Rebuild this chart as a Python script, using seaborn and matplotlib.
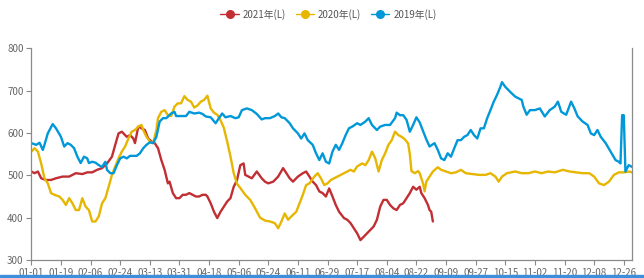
import numpy as np
import pandas as pd
import matplotlib
matplotlib.use("Agg")
import matplotlib.pyplot as plt
from matplotlib.lines import Line2D
from matplotlib.patches import Rectangle
import seaborn as sns

# ---------------- data (day index within the year, 2020 calendar incl. 02-29) ----------------
series_names = ["2021年(L)", "2020年(L)", "2019年(L)"]

day_2021 = [0, 2, 4, 6, 9, 12, 15, 19, 23, 27, 31, 34, 37, 40, 43, 46, 49, 51, 53, 55, 58, 60, 62, 63,
            65, 67, 69, 71, 73, 75, 77, 79, 81, 83, 84, 86, 88, 90, 92, 94, 96, 98, 100, 102, 104, 106,
            107, 109, 111, 113, 115, 117, 119, 121, 123, 125, 127, 129, 130, 132, 134, 137, 140, 142,
            144, 147, 150, 153, 155, 157, 159, 162, 165, 167, 169, 171, 173, 175, 177, 179, 181, 183,
            185, 187, 190, 192, 194, 196, 198, 200, 202, 204, 206, 208, 210, 212, 214, 216, 218, 220,
            222, 224, 226, 228, 230, 232, 234, 236, 237, 239, 241, 242, 243, 244]
val_2021 = [509, 505, 509, 493, 489, 489, 493, 497, 497, 505, 503, 507, 507, 513, 517, 528, 544, 572,
            599, 603, 591, 595, 587, 576, 615, 611, 607, 587, 580, 576, 564, 536, 513, 481, 485, 458,
            446, 446, 454, 454, 458, 454, 450, 450, 454, 454, 450, 434, 414, 399, 414, 426, 438, 446,
            473, 489, 524, 528, 501, 497, 493, 509, 493, 485, 481, 485, 497, 517, 505, 493, 485, 497,
            505, 509, 497, 485, 477, 462, 458, 450, 469, 450, 430, 414, 399, 395, 387, 375, 363, 347,
            355, 363, 371, 379, 395, 426, 442, 442, 430, 422, 418, 430, 434, 446, 458, 473, 466, 473,
            458, 446, 430, 418, 414, 391]

day_2020 = [0, 2, 4, 6, 8, 10, 12, 14, 17, 19, 21, 23, 25, 27, 29, 31, 33, 35, 37, 39, 41, 43, 45, 47,
            49, 51, 53, 55, 57, 59, 61, 63, 65, 67, 68, 70, 72, 74, 76, 77, 79, 81, 83, 85, 87, 89, 91,
            93, 95, 97, 99, 101, 103, 105, 107, 109, 111, 113, 115, 117, 119, 121, 123, 125, 127, 130,
            133, 136, 139, 142, 145, 148, 150, 152, 154, 156, 158, 161, 163, 165, 167, 169, 172, 174,
            176, 178, 180, 182, 184, 186, 188, 190, 192, 194, 196, 198, 201, 203, 205, 207, 209, 211,
            213, 215, 217, 219, 221, 223, 225, 227, 229, 230, 231, 233, 235, 236, 238, 239, 240, 242,
            244, 247, 249, 252, 255, 258, 261, 264, 268, 272, 276, 279, 282, 284, 286, 289, 294, 298,
            302, 306, 310, 314, 318, 323, 327, 331, 335, 339, 342, 345, 348, 351, 354, 357, 360, 363, 365]
val_2020 = [556, 564, 556, 528, 493, 481, 458, 454, 450, 442, 430, 446, 434, 418, 418, 446, 426, 418,
            391, 391, 403, 434, 446, 473, 501, 521, 540, 556, 568, 587, 603, 607, 615, 619, 607, 591,
            580, 576, 607, 635, 650, 654, 642, 640, 662, 670, 670, 687, 678, 674, 660, 665, 674, 678,
            688, 658, 648, 643, 630, 612, 580, 545, 505, 480, 470, 454, 442, 422, 400, 393, 391, 387,
            375, 391, 410, 395, 403, 414, 434, 454, 477, 481, 497, 505, 493, 477, 481, 489, 493, 497,
            501, 505, 509, 513, 509, 521, 528, 524, 536, 556, 540, 509, 536, 552, 572, 583, 603, 595,
            591, 585, 575, 550, 510, 505, 510, 505, 481, 462, 485, 497, 509, 519, 513, 509, 505, 507,
            513, 505, 503, 501, 501, 505, 497, 485, 497, 505, 509, 505, 505, 509, 505, 509, 507, 513,
            509, 507, 505, 505, 497, 481, 477, 485, 501, 507, 507, 509, 507]

day_2019 = [0, 3, 5, 7, 8, 10, 13, 15, 18, 20, 22, 24, 26, 28, 30, 32, 34, 35, 37, 39, 41, 43, 45, 46,
            48, 50, 52, 54, 56, 58, 60, 62, 64, 66, 68, 70, 72, 74, 76, 78, 80, 82, 85, 87, 88, 91, 94,
            96, 99, 102, 104, 106, 109, 112, 114, 116, 118, 121, 124, 126, 128, 131, 134, 137, 140, 142,
            145, 148, 150, 152, 154, 157, 159, 162, 164, 166, 168, 171, 173, 175, 177, 179, 181, 183,
            185, 187, 189, 191, 193, 195, 198, 200, 203, 205, 207, 210, 212, 215, 218, 221, 222, 224,
            226, 228, 230, 232, 234, 236, 238, 240, 242, 245, 247, 249, 251, 253, 255, 257, 259, 261,
            263, 265, 267, 269, 271, 273, 275, 277, 279, 281, 283, 285, 286, 288, 291, 294, 298, 299,
            301, 303, 306, 309, 312, 315, 318, 320, 322, 325, 328, 330, 332, 335, 338, 340, 342, 344,
            346, 349, 352, 355, 357, 358, 359, 360, 361, 363, 365]
val_2019 = [576, 572, 577, 560, 572, 599, 621, 611, 591, 568, 576, 572, 564, 544, 529, 544, 540, 529,
            532, 530, 524, 520, 532, 513, 505, 505, 524, 540, 544, 540, 546, 546, 546, 552, 564, 572,
            578, 576, 591, 627, 635, 635, 646, 650, 640, 640, 640, 650, 646, 648, 645, 639, 637, 623,
            635, 646, 637, 640, 635, 637, 654, 658, 654, 645, 632, 635, 635, 640, 646, 637, 635, 623,
            611, 599, 587, 599, 583, 572, 552, 536, 552, 532, 528, 556, 572, 560, 576, 595, 611, 615,
            623, 619, 627, 635, 619, 607, 615, 619, 619, 635, 648, 642, 642, 631, 603, 619, 637, 625,
            605, 585, 568, 576, 560, 540, 536, 552, 544, 564, 583, 583, 591, 595, 607, 595, 587, 611,
            611, 635, 654, 674, 690, 709, 720, 709, 697, 686, 678, 662, 643, 654, 654, 658, 639, 654,
            662, 674, 650, 643, 674, 658, 639, 627, 619, 599, 595, 607, 591, 576, 556, 536, 532, 528,
            642, 642, 509, 524, 520]

tick_days = [0, 18, 36, 54, 72, 90, 108, 126, 144, 162, 180, 198, 216, 234, 252, 270, 288, 306, 324, 342, 360]
tick_labels = ["01-01", "01-19", "02-06", "02-24", "03-13", "03-31", "04-18", "05-06", "05-24", "06-11",
               "06-29", "07-17", "08-04", "08-22", "09-09", "09-27", "10-15", "11-02", "11-20", "12-08", "12-26"]
y_ticks = [300, 400, 500, 600, 700, 800]

# ---------------- build long table ----------------
frames = []
for name, d, v in zip(series_names, [day_2021, day_2020, day_2019], [val_2021, val_2020, val_2019]):
    frames.append(pd.DataFrame({"day": d, "value": v, "series": name}))
df = pd.concat(frames, ignore_index=True)

colors = {"2021年(L)": "#c12e34", "2020年(L)": "#e6b600", "2019年(L)": "#0098d9"}

sns.set_theme(style="white")
plt.rcParams["font.family"] = ["Noto Sans CJK SC", "DejaVu Sans"]

fig = plt.figure(figsize=(6.44, 2.78), dpi=100)
ax = fig.add_axes([31.3 / 644, 1 - 260 / 278, (632 - 31.3) / 644, (260 - 48.3) / 278])

sns.lineplot(data=df, x="day", y="value", hue="series", palette=colors, hue_order=series_names,
             estimator=None, sort=True, linewidth=1.7, ax=ax, legend=False)

ax.set_xlim(0, 365)
ax.set_ylim(300, 800)
ax.set_xticks(tick_days)
ax.set_xticklabels(tick_labels)
ax.set_yticks(y_ticks)
ax.set_xlabel("")
ax.set_ylabel("")
ax.grid(False)
for s in ["left", "bottom", "right"]:
    ax.spines[s].set_visible(True)
    ax.spines[s].set_color("#8a8a8a")
    ax.spines[s].set_linewidth(0.9)
ax.spines["top"].set_visible(False)
ax.tick_params(axis="both", which="major", labelsize=7, colors="#8a8a8a", labelcolor="#666666",
               length=3.5, width=0.8, direction="out", pad=2)
ax.tick_params(axis="x", bottom=True)
ax.tick_params(axis="y", left=True, right=False)

handles = [Line2D([0], [0], color=colors[n], marker="o", markersize=5.5, linewidth=1.0) for n in series_names]
fig.legend(handles, series_names, loc="upper center", bbox_to_anchor=(0.51, 1.0), ncol=3,
           frameon=False, fontsize=7, labelcolor="#555555", handlelength=1.9, handletextpad=0.4,
           columnspacing=1.0)

fig.add_artist(Rectangle((0, 0), 1, 3.5 / 278, transform=fig.transFigure, color="#3d8fdc", zorder=10))

fig.savefig("out.png", dpi=100)
